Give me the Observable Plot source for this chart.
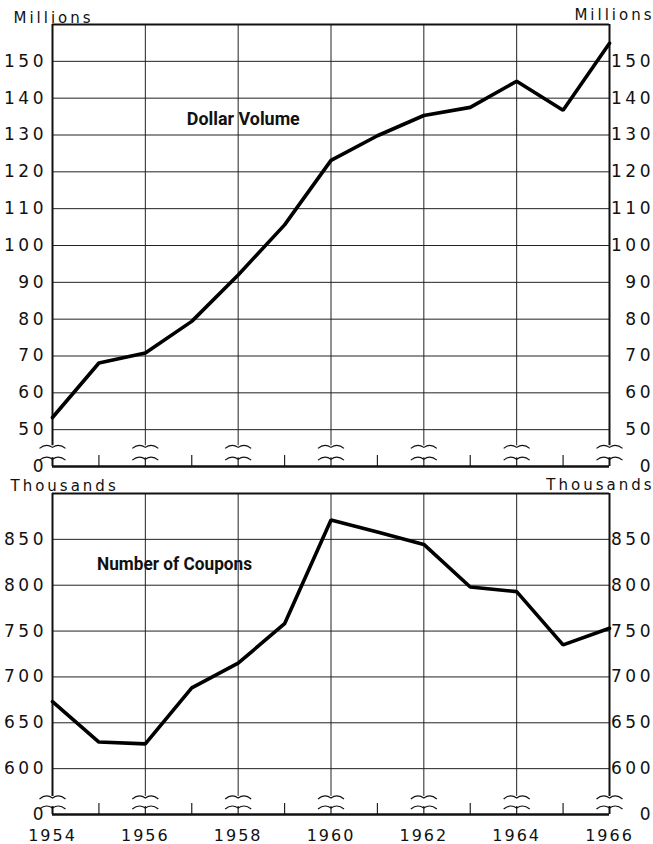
<!DOCTYPE html>
<html><head><meta charset="utf-8">
<script src="https://cdn.jsdelivr.net/npm/d3@7"></script>
<script src="https://cdn.jsdelivr.net/npm/@observablehq/plot@0.6"></script>
<style>
body{margin:0;background:#fff;}
#chart{position:relative;width:653px;height:844px;overflow:hidden;}
#chart svg{position:absolute;left:0;overflow:visible;}
#chart svg text{letter-spacing:2px;}
#chart g[aria-label="y-axis tick label"] text{letter-spacing:3.5px;}
#chart g[font-size="15"] text{letter-spacing:3px;}
#chart g[font-family="Roboto"] text{letter-spacing:0px;}
</style></head><body><div id="chart"></div>
<script>
// ---- data ----
const years = [1954,1955,1956,1957,1958,1959,1960,1961,1962,1963,1964,1965,1966];
const dollarVolume = [53.3,68.1,70.8,79.4,92,105.6,123.1,129.8,135.3,137.5,144.6,136.7,154.9]; // millions
const coupons = [673,629,627,688,715,758,871,858,844.5,798,793,735,753]; // thousands
const topTicks = [50,60,70,80,90,100,110,120,130,140,150];
const bottomTicks = [600,650,700,750,800,850];
const gridYears = [1956,1958,1960,1962,1964];
const frameYears = [1954,1966];
const oddYears = [1955,1957,1959,1961,1963,1965];
const yearLabels = [1954,1956,1958,1960,1962,1964,1966];
const breakYears = [1954,1956,1958,1960,1962,1964,1966];

const breakSym = {
  draw(ctx) {
    ctx.moveTo(-13, 2.5);
    ctx.quadraticCurveTo(-6.5, -3, 0, 1.5);
    ctx.quadraticCurveTo(6.5, -3, 13, 2.5);
  }
};

function panel(o) {
  const [y0, y1] = o.domain;
  const fmt = d => d === y0 ? "0" : String(d);
  const allTicks = [y0, ...o.ticks];
  const marks = [
    Plot.ruleY(o.ticks, {stroke: "#222", strokeWidth: 1}),
    Plot.ruleX(gridYears, {y1: o.brkHi, y2: y1, stroke: "#222", strokeWidth: 1}),
    Plot.ruleX(gridYears, {y1: y0, y2: o.brkLo, stroke: "#222", strokeWidth: 1.2}),
    Plot.ruleX(frameYears, {y1: o.brkHi, y2: y1, stroke: "#111", strokeWidth: 2}),
    Plot.ruleX(frameYears, {y1: y0, y2: o.brkLo, stroke: "#111", strokeWidth: 2}),
    Plot.ruleX(oddYears, {y1: y0, y2: o.tickTop, stroke: "#222", strokeWidth: 1.2}),
    Plot.ruleY([y1], {stroke: "#111", strokeWidth: 2}),
    Plot.ruleY([y0], {stroke: "#111", strokeWidth: 2.5}),
    Plot.dot(breakYears, {x: d => d, y: o.brkHi, symbol: breakSym, fill: "none", stroke: "#111", strokeWidth: 1.2}),
    Plot.dot(breakYears, {x: d => d, y: o.brkLo, symbol: breakSym, fill: "none", stroke: "#111", strokeWidth: 1.2}),
    Plot.line(years.map((y, i) => ({year: y, v: o.values[i]})), {x: "year", y: "v", stroke: "#000", strokeWidth: 3.6, strokeLinejoin: "miter"}),
    Plot.axisY(allTicks, {anchor: "left", label: null, tickSize: 0, tickPadding: 5.5, tickFormat: fmt, fontSize: 17}),
    Plot.axisY(allTicks, {anchor: "right", label: null, tickSize: 0, tickPadding: 0, dx: 44.5, textAnchor: "end", tickFormat: fmt, fontSize: 17}),
    Plot.text([o.title], {x: o.titleX, y: o.titleY, text: d => d, fontFamily: "Roboto", fontWeight: "bold", fontSize: 19}),
    Plot.text([o.unit], {frameAnchor: "top-left", textAnchor: "start", lineAnchor: "bottom", dx: o.unitDxL, dy: o.unitDyL, fontSize: 15}),
    Plot.text([o.unit], {frameAnchor: "top-right", textAnchor: "end", lineAnchor: "bottom", dx: 45, dy: o.unitDyR, fontSize: 15})
  ];
  if (o.showYears) marks.push(Plot.axisX(yearLabels, {label: null, tickSize: 0, tickPadding: 15, tickFormat: d => String(d), fontSize: 16}));
  const svg = Plot.plot({
    width: 653, height: o.height,
    marginLeft: 52, marginRight: 44, marginTop: o.marginTop, marginBottom: o.marginBottom,
    x: {domain: [1954, 1966], axis: null},
    y: {domain: o.domain, axis: null},
    style: {fontFamily: "DejaVu Sans", fontSize: "16px", background: "transparent", color: "#111", overflow: "visible"},
    marks
  });
  svg.querySelectorAll('g[font-family="Roboto"] text').forEach(t => {
    t.setAttribute("textLength", o.titleWidth);
    t.setAttribute("lengthAdjust", "spacingAndGlyphs");
  });
  svg.style.top = o.top + "px";
  return svg;
}

const chart = document.getElementById("chart");
chart.appendChild(panel({
  values: dollarVolume, domain: [40, 160], ticks: topTicks,
  brkHi: 45.6, brkLo: 42.4, tickTop: 43,
  title: "Dollar Volume", titleX: 1958.11, titleY: 134.5, titleWidth: 113,
  unit: "Millions", unitDxL: -39, unitDyL: -2, unitDyR: -5,
  height: 470, marginTop: 24, marginBottom: 4, top: 0, showYears: false
}));
chart.appendChild(panel({
  values: coupons, domain: [550, 900], ticks: bottomTicks,
  brkHi: 569.7, brkLo: 558.7, tickTop: 562,
  title: "Number of Coupons", titleX: 1956.63, titleY: 822.7, titleWidth: 155,
  unit: "Thousands", unitDxL: -42, unitDyL: -3, unitDyR: -4,
  height: 374, marginTop: 23, marginBottom: 30, top: 470, showYears: true
}));
</script></body></html>
